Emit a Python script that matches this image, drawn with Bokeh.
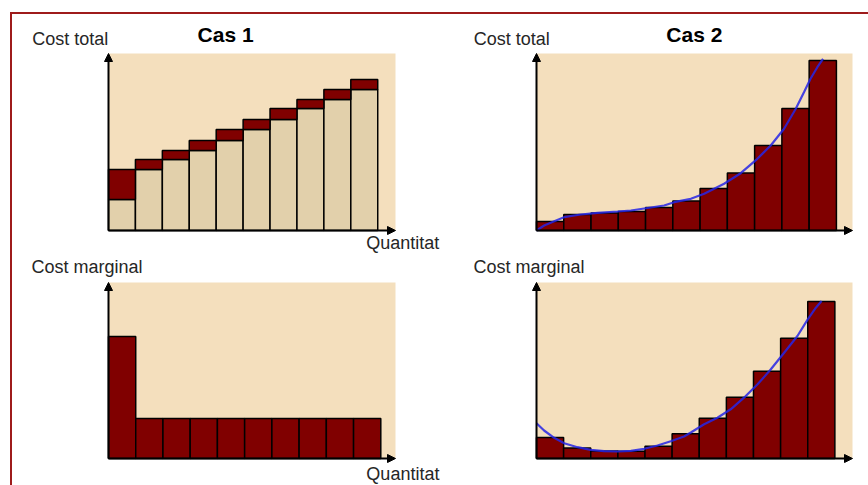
import numpy as np
from bokeh.plotting import figure
from bokeh.layouts import column, row
from bokeh.models import Arrow, NormalHead, Label
from bokeh.embed import file_html
from bokeh.resources import INLINE

# ---------------- data ----------------
# Cas 1: cost total per quantity (fixed cost + variable cost), marginal cost
cas1_fixed_cost = 31
cas1_total_cost = [61, 71, 80, 90, 101, 111, 122, 131, 141, 151]
cas1_marginal_cost = [122, 40, 40, 40, 40, 40, 40, 40, 40, 40]

# Cas 2: cost total and marginal cost bars
cas2_total_cost = [9, 16, 17.5, 19, 23, 29.5, 42, 57.5, 85, 122, 170]
cas2_marginal_cost = [21, 10.5, 7.5, 7.3, 12.3, 24.7, 40.3, 61.3, 87.3, 120.3, 157]

# Cas 2 smooth curves
cas2_total_curve_q = [0, 0.28, 0.65, 1.01, 1.62, 2.24, 2.97, 3.46, 3.95, 4.68, 5.05,
                      5.66, 6.15, 6.88, 7.49, 8.10, 8.59, 9.08, 9.51, 9.81, 10.05, 10.30, 10.51]
cas2_total_curve_c = [0, 5, 9.3, 13.3, 16, 17.7, 19, 20, 22, 25, 28.3,
                      31.7, 36.7, 46.7, 57.3, 71.7, 85, 101.7, 121.7, 138.3, 151.7, 163.3, 171.7]
cas2_marg_curve_q = [0, 0.28, 0.65, 1.02, 1.51, 2.00, 2.49, 2.99, 3.48, 3.97, 4.46, 4.95,
                     5.44, 5.69, 6.18, 6.67, 7.16, 7.65, 8.15, 8.64, 9.13, 9.62, 10.0, 10.30, 10.51]
cas2_marg_curve_c = [35.3, 28, 20.7, 15.3, 11.3, 8.7, 7.3, 7, 7.7, 9.7, 13, 17.3,
                     22, 26, 34.2, 40.8, 49.2, 60.8, 74.2, 89.2, 105.8, 122.5, 139.2, 150.8, 157.5]

texts_cost_total = "Cost total"
texts_cost_marginal = "Cost marginal"
text_quantity = "Quantitat"
titles = ["Cas 1", "Cas 2"]

# ---------------- styles ----------------
BG = "#F4DFBD"
BASE = "#E2D0AB"
DARK = "#800000"
BLUE = "#2626E6"
TXT = "#262626"
FONT = "Liberation Sans"
BORDER = "#9E1B1B"
LABEL_SIZE = "18px"


def make_fig(width, height, left, top, fw, fh, xmax, ymax):
    """Whole canvas is the frame; the panel (0..xmax, 0..ymax) sits at
    (left, top) with size fw x fh pixels."""
    sx = fw / xmax
    sy = fh / ymax
    x_range = (-left / sx, (width - left) / sx)
    y_range = (-(height - top - fh) / sy, (top + fh) / sy)
    p = figure(width=width, height=height, x_range=x_range, y_range=y_range,
               x_axis_location=None, y_axis_location=None, title=None,
               toolbar_location=None, output_backend="svg")
    p.min_border = 0
    p.min_border_left = p.min_border_right = p.min_border_top = p.min_border_bottom = 0
    p.background_fill_color = "white"
    p.border_fill_color = "white"
    p.outline_line_color = None
    p.grid.visible = False
    # beige panel
    p.quad(left=[0], right=[xmax], bottom=[0], top=[ymax], fill_color=BG, line_color=None)
    return p


def add_axes(p, xmax, ymax):
    p.add_layout(Arrow(end=NormalHead(size=8, fill_color="black", line_color="black"),
                       x_start=0, y_start=0, x_end=0, y_end=ymax,
                       line_color="black", line_width=2))
    p.add_layout(Arrow(end=NormalHead(size=8, fill_color="black", line_color="black"),
                       x_start=0, y_start=0, x_end=xmax, y_end=0,
                       line_color="black", line_width=2))


def add_label(p, x, y, text, size=LABEL_SIZE, bold=False, align="left"):
    p.add_layout(Label(x=x, y=y, text=text, text_font=FONT, text_font_size=size,
                       text_font_style="bold" if bold else "normal",
                       text_color="black" if bold else TXT,
                       text_align=align, text_baseline="alphabetic"))


# ---------------- Cas 1 : cost total ----------------
p1 = make_fig(440, 241, 96, 39, 287, 177, 10.66, 177)
q1 = np.arange(len(cas1_total_cost)) + 0.5
cas1_base = [cas1_fixed_cost] + cas1_total_cost[:-1]
p1.vbar(x=q1, width=1, bottom=0, top=cas1_base, fill_color=BASE,
        line_color="black", line_width=1.5)
p1.vbar(x=q1, width=1, bottom=cas1_base, top=cas1_total_cost, fill_color=DARK,
        line_color="black", line_width=1.5)
add_axes(p1, 10.66, 177)
add_label(p1, -2.83, 191.8, texts_cost_total)
add_label(p1, 4.35, 196.3, titles[0], size="21px", bold=True, align="center")
add_label(p1, 9.57, -12.5, text_quantity)

# ---------------- Cas 2 : cost total ----------------
p2 = make_fig(416, 241, 84, 39, 316, 177, 11.59, 177)
q2 = np.arange(len(cas2_total_cost)) + 0.5
p2.vbar(x=q2, width=1, bottom=0, top=cas2_total_cost, fill_color=DARK,
        line_color="black", line_width=1.5)
p2.line(cas2_total_curve_q, cas2_total_curve_c, line_color=BLUE, line_width=2.2, line_alpha=0.85)
add_axes(p2, 11.59, 177)
add_label(p2, -2.30, 191.8, texts_cost_total)
add_label(p2, 5.79, 196.3, titles[1], size="21px", bold=True, align="center")

# ---------------- Cas 1 : marginal cost ----------------
p3 = make_fig(440, 230, 96, 27, 287, 176, 10.54, 176)
q3 = np.arange(len(cas1_marginal_cost)) + 0.5
p3.vbar(x=q3, width=1, bottom=0, top=cas1_marginal_cost, fill_color=DARK,
        line_color="black", line_width=1.5)
add_axes(p3, 10.54, 176)
add_label(p3, -2.83, 191.3, texts_cost_marginal)
add_label(p3, 9.47, -15.5, text_quantity)

# ---------------- Cas 2 : marginal cost ----------------
p4 = make_fig(416, 230, 84, 27, 316, 176, 11.65, 176)
q4 = np.arange(len(cas2_marginal_cost)) + 0.5
p4.vbar(x=q4, width=1, bottom=0, top=cas2_marginal_cost, fill_color=DARK,
        line_color="black", line_width=1.5)
p4.line(cas2_marg_curve_q, cas2_marg_curve_c, line_color=BLUE, line_width=2.2, line_alpha=0.85)
add_axes(p4, 11.65, 176)
add_label(p4, -2.32, 191.3, texts_cost_marginal)

layout = column(row(p1, p2), row(p3, p4), margin=(12, 0, 0, 10),
                styles={"border-top": f"2px solid {BORDER}", "border-left": f"2px solid {BORDER}"})

open("out.html", "w").write(file_html(layout, INLINE))
